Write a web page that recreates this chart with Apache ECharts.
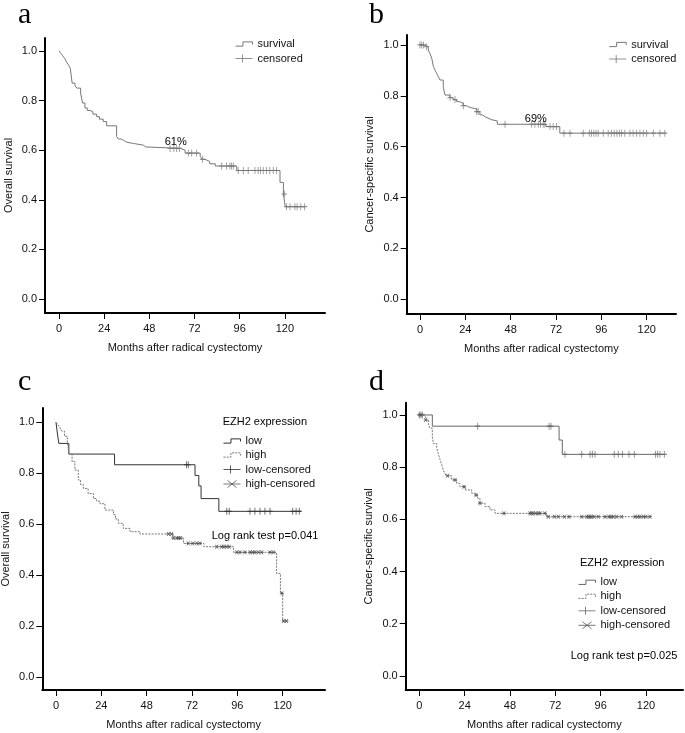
<!DOCTYPE html>
<html><head><meta charset="utf-8">
<script src="https://cdn.jsdelivr.net/npm/echarts@6/dist/echarts.min.js"></script>
<style>html,body{margin:0;padding:0;background:#fff}#c{width:685px;height:733px}</style>
</head><body><div id="c"></div>
<script>
// ---------- data ----------
const xTicks = [0, 24, 48, 72, 96, 120];
const yTicks = [0, 0.2, 0.4, 0.6, 0.8, 1.0];

// panel a: overall survival (step points [month, survival])
const aSteps = [[0,1.0],[1,0.99],[2,0.98],[3,0.97],[4,0.955],[5,0.944],[6,0.93],[7,0.87],[8.5,0.86],[9.5,0.85],[11.5,0.83],[12.5,0.79],[13.8,0.77],[15,0.76],[16.5,0.755],[18,0.745],[20,0.735],[21.5,0.725],[23.5,0.715],[25.3,0.698],[30.6,0.655],[31.5,0.645],[33,0.64],[34.2,0.632],[36,0.627],[39.5,0.62],[44.8,0.613],[46,0.607],[64.5,0.60],[67,0.588],[75,0.575],[76,0.563],[77.5,0.555],[80,0.545],[83,0.536],[94.4,0.518],[117.4,0.47],[119.2,0.423],[120.2,0.372],[130.8,0.372]];
const aCensored = [59,61,62.5,63.9,68.7,70.5,73.1,76.3,86.4,89,90.8,91.7,92.6,95.2,97.9,100.5,104.1,105.8,107.1,108.5,110.3,112,113.8,115.6,119.7,120.9,122.7,125.3,126.5,128.4,130.5];
const aNote = [[62, 0.633, '61%']];

// panel b: cancer-specific survival
const bSteps = [[0,1.0],[2.6,0.993],[4.4,0.98],[5.3,0.965],[6.2,0.948],[7.1,0.915],[8,0.9],[8.8,0.889],[9.7,0.875],[10.6,0.862],[12.3,0.836],[13.2,0.803],[15.9,0.793],[17.5,0.785],[19.4,0.777],[21,0.77],[22.9,0.761],[24.5,0.754],[26.5,0.748],[30,0.738],[31.7,0.725],[33,0.718],[34.4,0.712],[36,0.706],[37.9,0.701],[40.9,0.688],[66.7,0.679],[74,0.653],[130,0.653]];
const bCensored = [0,0.9,1.8,3.5,15.9,18.5,22.9,30,30.8,45,59.1,60.8,62.6,63.8,65.2,66.1,68.8,70.5,72.3,76.2,79.4,86.4,89.6,90.8,92,93.2,94.3,97,99.6,101.4,102.8,104.2,105.5,106.7,108.4,111.1,112.8,114.6,116.4,118.2,120,123.5,127,129.6];
const bNote = [[61.3, 0.71, '69%']];

// panel c: overall survival by EZH2 expression
const cLowSteps = [[0,1.0],[0.7,0.958],[1.5,0.917],[6.8,0.875],[31,0.833],[73.6,0.791],[75.6,0.75],[76.8,0.70],[86.2,0.65],[129.8,0.65]];
const cLowCensored = [69.1,70,90.4,91.7,102.7,105.3,108,110.6,113.3,125.3,127.1,128.8];
const cHighSteps = [[0,1.0],[1,0.99],[2,0.98],[3,0.965],[4.5,0.945],[6,0.92],[7,0.875],[8.5,0.845],[10,0.812],[11.8,0.773],[13,0.755],[14.5,0.74],[17,0.72],[19.8,0.70],[21.5,0.69],[23.3,0.68],[25.9,0.655],[30.4,0.637],[31.5,0.62],[33,0.603],[35.6,0.583],[39.2,0.57],[44.5,0.561],[62,0.545],[67.5,0.524],[78.3,0.511],[94,0.489],[116.8,0.406],[118.8,0.328],[120,0.219],[122.3,0.219]];
const cHighCensored = [59.5,61.2,62.1,64,65,66,70,72.4,74.5,76.2,85.1,87.7,88.9,90.3,91.7,95.7,97.4,100,102.7,104.1,105.3,107.1,108.9,113.3,115.1,119.6,120.5,122];

// panel d: cancer-specific survival by EZH2 expression
const dLowSteps = [[0,1.0],[6.9,0.957],[74,0.904],[75.7,0.849],[130,0.849]];
const dLowCensored = [0,0.8,1.7,30.9,68.7,69.7,77.1,86,90.4,91.6,93,103.2,105.3,107.5,111,113.8,125.1,126.2,127.4,129.7];
const dHighSteps = [[0,1.0],[2.1,0.993],[3.4,0.981],[4.8,0.968],[5.7,0.949],[6.9,0.917],[7.4,0.891],[9.2,0.875],[10,0.853],[11,0.828],[11.9,0.808],[12.7,0.789],[13.5,0.775],[14.5,0.767],[17.1,0.751],[19.8,0.738],[21.5,0.725],[24.2,0.713],[27.7,0.70],[29.8,0.693],[30.9,0.681],[32.1,0.662],[34.8,0.649],[37.4,0.636],[40.1,0.623],[67.4,0.610],[122.5,0.610]];
const dHighCensored = [0.5,3.4,15,18.9,23.7,30,32.1,44.8,58.6,59.5,60.3,61.6,63,63.9,66.5,68.3,71.5,73.6,76.8,79.3,86,88.6,89.5,90.4,91.2,92.6,94.8,98.3,100.4,101.5,102.7,104.5,107.1,114.2,115.6,116.8,118.6,119.9,122.1];

// ---------- helpers ----------
function survivalAt(steps, t) {
  let s = steps[0][1];
  for (const p of steps) { if (p[0] <= t) s = p[1]; else break; }
  return s;
}
function marks(steps, times) { return times.map(t => [t, survivalAt(steps, t)]); }

const FONT = 'Liberation Sans, Arial, sans-serif';
const PLUS = 'path://M0,5L10,5M5,0L5,10';
const STAR = 'path://M0,5L10,5M1.5,1.5L8.5,8.5M1.5,8.5L8.5,1.5';
const ICON_STEP = 'path://M0,4L7,4L7,0L16,0L16,2.5';
const ICON_PLUS = 'path://M0,4L17,4M7,0L7,8';
const ICON_STAR = 'path://M0,4L17,4M4,0.5L13,7.5M4,7.5L13,0.5';

const GRAY = '#777777';
const C_LOW = '#333333';
const D_LOW = '#666666';
const HIGH = '#777777';
const DOT = [2, 1.2];

const panels = [
  {grid:{left:45, top:38, width:280, height:275}, x:[-7.43,141.3], y:[-0.0565,1.052], yName:'Overall survival'},
  {grid:{left:406.7, top:35, width:269.3, height:279}, x:[-7.04,135.5], y:[-0.058,1.039], yName:'Cancer-specific survival'},
  {grid:{left:42.3, top:408, width:282.7, height:282}, x:[-7.25,142.4], y:[-0.052,1.056], yName:'Overall survival'},
  {grid:{left:405.7, top:402.7, width:277.3, height:287.3}, x:[-7.2,139.6], y:[-0.054,1.047], yName:'Cancer-specific survival'}
];

const grid = panels.map(p => Object.assign({containLabel:false, outerBoundsMode:'none'}, p.grid));
const xAxis = panels.map((p, i) => ({
  type:'value', gridIndex:i, min:p.x[0], max:p.x[1],
  axisLine:{show:true, onZero:false, lineStyle:{color:'#000', width:2}},
  axisTick:{show:true, customValues:xTicks, length:6, lineStyle:{color:'#000', width:1}},
  axisLabel:{show:true, customValues:xTicks, margin:10, color:'#111', fontSize:11, fontFamily:FONT},
  splitLine:{show:false},
  name:'Months after radical cystectomy', nameLocation:'middle', nameGap:29,
  nameTextStyle:{color:'#111', fontSize:11, fontFamily:FONT}
}));
const yAxis = panels.map((p, i) => ({
  type:'value', gridIndex:i, min:p.y[0], max:p.y[1],
  axisLine:{show:true, onZero:false, lineStyle:{color:'#000', width:2}},
  axisTick:{show:true, customValues:yTicks, length:6, lineStyle:{color:'#000', width:1}},
  axisLabel:{show:true, customValues:yTicks, margin:8, color:'#111', fontSize:11, fontFamily:FONT,
    formatter: v => Number(v).toFixed(1)},
  splitLine:{show:false},
  name:p.yName, nameLocation:'middle', nameGap:31,
  nameTextStyle:{color:'#111', fontSize:11, fontFamily:FONT}
}));

function curve(name, i, steps, color, dash) {
  return {type:'line', name, xAxisIndex:i, yAxisIndex:i, data:steps, step:'end',
    showSymbol:false, symbol:'none', silent:true,
    lineStyle:{color, width:1, type:dash || 'solid'}, itemStyle:{color}, z:2};
}
function cens(name, i, steps, times, color, sym, size) {
  return {type:'scatter', name, xAxisIndex:i, yAxisIndex:i, data:marks(steps, times),
    symbol:sym, symbolSize:size, silent:true,
    itemStyle:{color:'none', borderColor:color, borderWidth:1}, z:3};
}
function note(i, arr) {
  return {type:'scatter', name:'note'+i, xAxisIndex:i, yAxisIndex:i,
    data:arr.map(d => ({value:[d[0], d[1]], label:{formatter:d[2]}})),
    symbolSize:1, itemStyle:{color:'#fff', opacity:1}, silent:true, z:5,
    label:{show:true, position:'inside', color:'#000', opacity:1, textBorderWidth:0,
      fontSize:11, fontFamily:FONT}};
}

const series = [
  curve('survival', 0, aSteps, GRAY),
  cens('censored', 0, aSteps, aCensored, GRAY, PLUS, [5,7]),
  note(0, aNote),
  curve('survival', 1, bSteps, GRAY),
  cens('censored', 1, bSteps, bCensored, GRAY, PLUS, [5,7]),
  note(1, bNote),
  curve('low', 2, cLowSteps, C_LOW),
  curve('high', 2, cHighSteps, HIGH, DOT),
  cens('low-censored', 2, cLowSteps, cLowCensored, C_LOW, PLUS, [5,7]),
  cens('high-censored', 2, cHighSteps, cHighCensored, '#555', STAR, 4),
  curve('low', 3, dLowSteps, D_LOW),
  curve('high', 3, dHighSteps, HIGH, DOT),
  cens('low-censored', 3, dLowSteps, dLowCensored, D_LOW, PLUS, [5,7]),
  cens('high-censored', 3, dHighSteps, dHighCensored, '#555', STAR, 4)
];

function item(name, icon, color, dash) {
  return {name, icon, itemStyle:{color:'none', borderColor:color, borderWidth:1, borderType: dash || 'solid'}};
}
function legend(left, top, items) {
  return {orient:'vertical', left, top, padding:0, itemGap:2, itemWidth:17, itemHeight:8,
    selectedMode:false, data:items,
    textStyle:{color:'#111', fontSize:11, fontFamily:FONT, lineHeight:12}};
}
const legends = [
  legend(233, 38, [item('survival', ICON_STEP, GRAY), item('censored', ICON_PLUS, GRAY)]),
  legend(606.7, 38.5, [item('survival', ICON_STEP, GRAY), item('censored', ICON_PLUS, GRAY)]),
  legend(221, 435, [item('low', ICON_STEP, C_LOW), item('high', ICON_STEP, HIGH, DOT),
    item('low-censored', ICON_PLUS, C_LOW), item('high-censored', ICON_STAR, '#555')]),
  legend(576, 576.3, [item('low', ICON_STEP, D_LOW), item('high', ICON_STEP, HIGH, DOT),
    item('low-censored', ICON_PLUS, D_LOW), item('high-censored', ICON_STAR, '#555')])
];

function t(text, left, top, size, family) {
  return {text, left, top, padding:0,
    textStyle:{color:'#000', fontSize:size, fontWeight:'normal', fontFamily:family || FONT}};
}
const SERIF = 'Liberation Serif, Times New Roman, serif';
const titles = [
  t('a', 18, 0, 30, SERIF), t('b', 369, 0, 30, SERIF),
  t('c', 18, 367, 30, SERIF), t('d', 369, 367, 30, SERIF),
  t('EZH2 expression', 222.7, 416, 11), t('Log rank test p=0.041', 211.7, 530, 11),
  t('EZH2 expression', 580, 557, 11), t('Log rank test p=0.025', 570.7, 650.5, 11)
];

const chart = echarts.init(document.getElementById('c'), null, {renderer:'canvas'});
chart.setOption({animation:false, backgroundColor:'#fff', title:titles, legend:legends,
  grid, xAxis, yAxis, series});
</script></body></html>
